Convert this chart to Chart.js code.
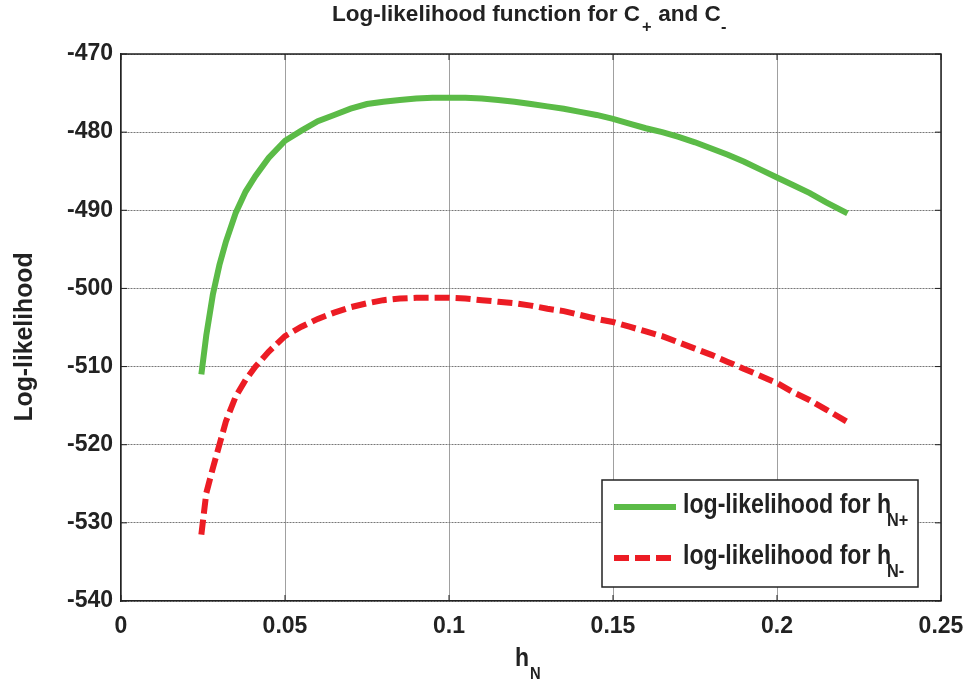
<!DOCTYPE html>
<html>
<head>
<meta charset="utf-8">
<script src="https://cdn.jsdelivr.net/npm/chart.js@4.4.1/dist/chart.umd.min.js"></script>
<style>
html,body{margin:0;padding:0;background:#fff;}
#wrap{width:967px;height:688px;position:relative;}
</style>
</head>
<body>
<div id="wrap"><canvas id="c" width="967" height="688"></canvas></div>
<script>
// ---- data ----
const hN = [0.0245, 0.026, 0.028, 0.030, 0.032, 0.035, 0.038, 0.041, 0.045, 0.050,
            0.055, 0.060, 0.065, 0.070, 0.075, 0.080, 0.085, 0.090, 0.095, 0.100,
            0.105, 0.110, 0.115, 0.120, 0.125, 0.130, 0.135, 0.140, 0.145, 0.150,
            0.155, 0.160, 0.165, 0.170, 0.175, 0.180, 0.185, 0.190, 0.195, 0.200,
            0.205, 0.210, 0.215, 0.2215];
const llPlus = [-511.0, -506.0, -500.8, -497.0, -494.0, -490.3, -487.6, -485.6, -483.3, -481.1,
                -479.8, -478.6, -477.8, -477.0, -476.4, -476.1, -475.9, -475.7, -475.6, -475.6,
                -475.6, -475.7, -475.9, -476.1, -476.4, -476.7, -477.0, -477.4, -477.8, -478.3,
                -478.9, -479.5, -480.0, -480.6, -481.3, -482.1, -482.9, -483.8, -484.8, -485.8,
                -486.8, -487.8, -489.0, -490.4];
const llMinus = [-531.5, -526.2, -523.0, -520.0, -517.0, -513.8, -511.7, -510.0, -508.1, -506.1,
                 -504.9, -503.9, -503.1, -502.4, -501.9, -501.5, -501.3, -501.2, -501.2, -501.2,
                 -501.3, -501.5, -501.7, -501.9, -502.2, -502.6, -502.9, -503.4, -503.9, -504.3,
                 -504.9, -505.5, -506.1, -506.9, -507.7, -508.5, -509.4, -510.3, -511.2, -512.1,
                 -513.3, -514.3, -515.5, -517.1];
const xTicks = [0, 0.05, 0.1, 0.15, 0.2, 0.25];
const xTickLabels = ['0', '0.05', '0.1', '0.15', '0.2', '0.25'];
const yTicks = [-470, -480, -490, -500, -510, -520, -530, -540];
const seriesLabels = ['log-likelihood for h', 'log-likelihood for h'];
const seriesSubs = ['N+', 'N-'];
const titleMain = 'Log-likelihood function for C';
const titleSub1 = '+';
const titleMid = ' and C';
const titleSub2 = '-';
const xTitle = 'h';
const xTitleSub = 'N';
const yTitle = 'Log-likelihood';

const FONT = "'Liberation Sans Narrow','Arial Narrow','Liberation Sans',Arial,sans-serif";
const GREEN = '#5bbb47';
const RED = '#ec1c24';

function pts(xs, ys){ return xs.map((x,i)=>({x:x, y:ys[i]})); }

function scaledText(ctx, txt, x, y, sx){
  ctx.save();
  ctx.translate(x, y);
  ctx.scale(sx, 1);
  ctx.fillText(txt, 0, 0);
  ctx.restore();
}

const overlay = {
  id: 'overlay',
  afterDraw(chart){
    const ctx = chart.ctx;
    const a = chart.chartArea;
    const xs = chart.scales.x, ys = chart.scales.y;
    ctx.save();
    // box top/right
    ctx.strokeStyle = '#222';
    ctx.lineWidth = 1.5;
    ctx.beginPath();
    ctx.moveTo(a.left, a.top); ctx.lineTo(a.right, a.top); ctx.lineTo(a.right, a.bottom);
    ctx.stroke();
    // inward tick marks
    ctx.lineWidth = 1;
    ctx.beginPath();
    xTicks.forEach(v=>{
      const px = xs.getPixelForValue(v);
      ctx.moveTo(px, a.bottom); ctx.lineTo(px, a.bottom-6);
      ctx.moveTo(px, a.top); ctx.lineTo(px, a.top+6);
    });
    yTicks.forEach(v=>{
      const py = ys.getPixelForValue(v);
      ctx.moveTo(a.left, py); ctx.lineTo(a.left+6, py);
      ctx.moveTo(a.right, py); ctx.lineTo(a.right-6, py);
    });
    ctx.stroke();

    ctx.fillStyle = '#222';
    ctx.textBaseline = 'alphabetic';
    ctx.textAlign = 'left';
    // title
    ctx.font = 'bold 22px ' + FONT;
    const SX = 308 / ctx.measureText(titleMain).width;
    const tb = 21;
    scaledText(ctx, titleMain, 332, tb, SX);
    ctx.font = 'bold 16px ' + FONT;
    scaledText(ctx, titleSub1, 642, tb + 11, SX);
    ctx.font = 'bold 22px ' + FONT;
    scaledText(ctx, titleMid, 652, tb, SX);
    ctx.font = 'bold 16px ' + FONT;
    scaledText(ctx, titleSub2, 721, tb + 11, SX);

    // x title
    ctx.font = 'bold 25px ' + FONT;
    scaledText(ctx, xTitle, 515, 666, 0.92);
    ctx.font = 'bold 16px ' + FONT;
    scaledText(ctx, xTitleSub, 530, 679, 0.92);

    // y title
    ctx.save();
    ctx.translate(32, 337);
    ctx.rotate(-Math.PI/2);
    ctx.textAlign = 'center';
    ctx.font = 'bold 25px ' + FONT;
    const yw = ctx.measureText(yTitle).width;
    ctx.scale(169 / yw, 1);
    ctx.fillText(yTitle, 0, 0);
    ctx.restore();

    // legend
    const L = {x: 602, y: 480, w: 316, h: 107};
    ctx.fillStyle = '#fff';
    ctx.fillRect(L.x, L.y, L.w, L.h);
    ctx.strokeStyle = '#222';
    ctx.lineWidth = 1.5;
    ctx.strokeRect(L.x, L.y, L.w, L.h);
    const rows = [507, 558];
    chart.data.datasets.forEach((ds, i)=>{
      ctx.strokeStyle = ds.borderColor;
      ctx.lineWidth = ds.borderWidth;
      ctx.setLineDash(ds.borderDash || []);
      ctx.beginPath();
      ctx.moveTo(614, rows[i]); ctx.lineTo(676, rows[i]);
      ctx.stroke();
      ctx.setLineDash([]);
      ctx.fillStyle = '#222';
      ctx.textAlign = 'left';
      ctx.font = 'bold 27px ' + FONT;
      const lw = ctx.measureText(seriesLabels[i]).width;
      const lsx = 208 / lw;
      scaledText(ctx, seriesLabels[i], 683, rows[i] + 6, lsx);
      ctx.font = 'bold 19px ' + FONT;
      scaledText(ctx, seriesSubs[i], 683 + 204, rows[i] + 19, lsx);
    });
    ctx.restore();
  }
};

new Chart(document.getElementById('c'), {
  type: 'scatter',
  data: {
    datasets: [
      {label: seriesLabels[0] + seriesSubs[0], data: pts(hN, llPlus), showLine: true,
       borderColor: GREEN, backgroundColor: GREEN, borderWidth: 6, pointRadius: 0,
       tension: 0, borderCapStyle: 'butt'},
      {label: seriesLabels[1] + seriesSubs[1], data: pts(hN, llMinus), showLine: true,
       borderColor: RED, backgroundColor: RED, borderWidth: 6, pointRadius: 0,
       borderDash: [15, 6], tension: 0, borderCapStyle: 'butt'}
    ]
  },
  options: {
    responsive: false,
    animation: false,
    devicePixelRatio: 1,
    layout: {padding: {left: 0, right: 26, top: 54, bottom: 0}},
    plugins: {legend: {display: false}, title: {display: false}, tooltip: {enabled: false}},
    scales: {
      x: {
        type: 'linear', min: 0, max: 0.25,
        afterBuildTicks(s){ s.ticks = xTicks.map(v=>({value: v})); },
        afterFit(s){ s.height = 87; s.paddingRight = 0; s.paddingLeft = 0; },
        ticks: {
          callback: (v, i) => xTickLabels[i],
          color: '#222', font: {family: FONT, size: 23, weight: 'bold'}, padding: 12, maxRotation: 0
        },
        grid: {color: '#a0a0a0', lineWidth: 1, drawTicks: false},
        border: {color: '#222', width: 1.5}
      },
      y: {
        type: 'linear', min: -540, max: -470,
        afterBuildTicks(s){ s.ticks = yTicks.map(v=>({value: v})); },
        afterFit(s){ s.width = 121; s.paddingTop = 0; s.paddingBottom = 0; },
        ticks: {
          color: '#222', font: {family: FONT, size: 23, weight: 'bold'}, padding: 8
        },
        grid: {color: '#777', lineWidth: 1, drawTicks: false},
        border: {color: '#222', width: 1.5, dash: [2, 1]}
      }
    }
  },
  plugins: [overlay]
});
</script>
</body>
</html>
